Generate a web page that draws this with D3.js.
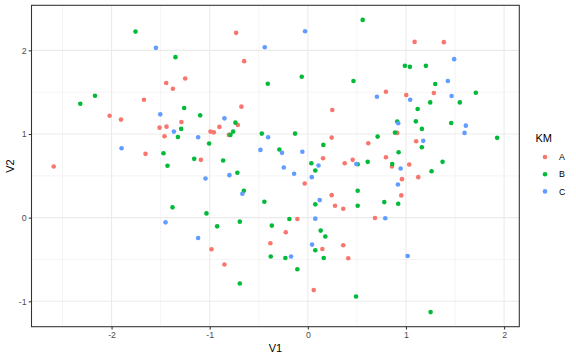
<!DOCTYPE html>
<html><head><meta charset="utf-8">
<script src="https://cdn.jsdelivr.net/npm/d3@7"></script>
<style>body{margin:0;background:#fff}svg{display:block}text{font-family:"Liberation Sans",Arial,sans-serif}</style>
</head><body><svg id="c" width="576" height="360"></svg>
<script>
const clusters = ["A","B","C"];
const colors = ["#F8766D","#00BA38","#619CFF"];
const xTicks = [-2,-1,0,1,2];
const yTicks = [-1,0,1,2];
const aV1 = [-1.250,-1.443,-1.375,-1.670,-2.020,-1.904,-1.288,-1.511,-1.440,-1.461,-1.654,-2.590,-0.731,-0.649,-0.677,0.249,-0.901,-0.713,-0.992,-0.958,-0.805,0.243,0.155,-1.090,0.376,0.457,-0.032,0.243,0.277,0.361,-0.107,-0.225,-0.382,0.361,-0.982,0.148,0.412,-0.850,0.060,1.088,1.386,0.796,1.003,1.284,0.911,0.616,1.104,0.796,1.033,0.857,0.959,1.125,0.952,0.684];
const aV2 = [1.664,1.609,1.541,1.410,1.219,1.172,1.144,1.076,1.088,0.973,0.763,0.611,2.209,1.871,1.327,1.287,1.085,1.108,1.029,1.020,0.989,0.957,0.710,0.691,0.651,0.691,0.409,0.269,0.143,0.107,-0.017,-0.175,-0.306,-0.330,-0.378,-0.374,-0.485,-0.560,-0.866,2.101,2.098,1.505,1.466,1.490,1.013,0.889,0.913,0.722,0.635,0.611,0.460,0.484,0.266,-0.005];
const bV1 = [-1.756,-1.349,-2.169,-2.319,-1.260,-1.291,-1.324,-1.471,-1.158,-1.430,-1.379,-0.062,-0.408,0.465,-1.097,-0.738,-0.761,-0.789,-0.469,-0.130,-1.006,0.158,-0.290,-0.863,0.036,0.076,-0.718,-0.652,-0.443,0.076,-1.033,-0.188,-0.693,-0.924,-0.367,0.131,0.178,0.076,-0.378,-0.229,0.162,-0.107,-0.693,0.491,1.251,0.559,0.989,1.040,1.203,1.298,1.712,1.247,1.549,1.119,0.911,1.101,1.461,1.162,0.888,1.929,0.711,1.162,0.925,0.610,0.860,1.373,0.508,1.261,0.508,0.779,0.921,0.508];
const bV2 = [2.224,1.919,1.458,1.362,1.311,1.061,0.965,0.770,0.703,0.620,0.123,1.684,1.601,1.634,1.223,1.136,1.029,0.989,1.005,1.005,0.886,0.870,0.814,0.683,0.651,0.564,0.536,0.322,0.191,0.159,0.051,-0.017,-0.048,-0.104,-0.095,-0.155,-0.226,-0.390,-0.465,-0.482,-0.482,-0.616,-0.787,-0.942,-1.129,2.364,1.815,1.803,1.815,1.597,1.493,1.378,1.378,1.299,1.148,1.151,1.132,1.061,1.017,0.954,0.969,0.841,0.782,0.667,0.641,0.667,0.639,0.555,0.322,0.186,0.167,0.143];
const cV1 = [-1.548,-1.504,-1.365,-1.898,-1.450,-0.028,-0.439,-0.850,-1.118,-0.405,-0.483,-0.263,-0.056,0.109,-0.245,-0.140,-1.043,-0.799,0.040,-0.667,0.121,0.076,-1.118,0.043,-0.171,1.491,1.427,0.704,1.043,1.465,0.921,1.610,1.597,1.176,0.494,0.946,0.918,0.789,1.017];
const cV2 = [2.030,1.235,1.029,0.830,-0.056,2.229,2.038,1.187,0.961,0.961,0.810,0.775,0.787,0.623,0.600,0.524,0.468,0.508,0.484,0.286,0.210,-0.012,-0.243,-0.322,-0.465,1.895,1.633,1.446,1.410,1.454,1.128,1.100,1.013,0.918,0.641,0.588,0.397,-0.008,-0.458];

const series = [[aV1,aV2],[bV1,bV2],[cV1,cV2]];
const pts = [];
series.forEach((s,k)=>s[0].forEach((v,i)=>pts.push({x:v,y:s[1][i],k:k})));

const svg = d3.select("#c");
const L=31.5, R=519.3, T=5.3, B=326.7;
function expand(ext){const d=(ext[1]-ext[0])*0.05;return [ext[0]-d, ext[1]+d];}
const x = d3.scaleLinear().domain(expand(d3.extent(pts,d=>d.x))).range([L,R]);
const y = d3.scaleLinear().domain(expand(d3.extent(pts,d=>d.y))).range([B,T]);

const g = svg.append("g");
g.append("rect").attr("x",L).attr("y",T).attr("width",R-L).attr("height",B-T).attr("fill","#fff");
// minor grid
const xMinor = xTicks.slice(0,-1).map(v=>v+0.5).concat([xTicks[0]-0.5]);
const yMinor = yTicks.slice(0,-1).map(v=>v+0.5).concat([yTicks[0]-0.5]);
xMinor.filter(v=>v>=x.domain()[0]&&v<=x.domain()[1]).forEach(v=>g.append("line").attr("x1",x(v)).attr("x2",x(v)).attr("y1",T).attr("y2",B).attr("stroke","#ebebeb").attr("stroke-width",0.55));
yMinor.filter(v=>v>=y.domain()[0]&&v<=y.domain()[1]).forEach(v=>g.append("line").attr("y1",y(v)).attr("y2",y(v)).attr("x1",L).attr("x2",R).attr("stroke","#ebebeb").attr("stroke-width",0.55));
xTicks.forEach(v=>g.append("line").attr("x1",x(v)).attr("x2",x(v)).attr("y1",T).attr("y2",B).attr("stroke","#ebebeb").attr("stroke-width",1.07));
yTicks.forEach(v=>g.append("line").attr("y1",y(v)).attr("y2",y(v)).attr("x1",L).attr("x2",R).attr("stroke","#ebebeb").attr("stroke-width",1.07));

g.selectAll("circle.p").data(pts).enter().append("circle")
 .attr("cx",d=>x(d.x)).attr("cy",d=>y(d.y)).attr("r",2.3).attr("fill",d=>colors[d.k]);

g.append("rect").attr("x",L).attr("y",T).attr("width",R-L).attr("height",B-T).attr("fill","none").attr("stroke","#333").attr("stroke-width",1.07);

// axes
const xa = svg.append("g").attr("transform",`translate(0,${B})`).call(d3.axisBottom(x).tickValues(xTicks).tickSize(2.75).tickPadding(2.2).tickFormat(d3.format("d")));
const ya = svg.append("g").attr("transform",`translate(${L},0)`).call(d3.axisLeft(y).tickValues(yTicks).tickSize(2.75).tickPadding(2.2).tickFormat(d3.format("d")));
[xa,ya].forEach(a=>{a.select(".domain").remove();a.selectAll("line").attr("stroke","#333").attr("stroke-width",1.07);
 a.selectAll("text").attr("fill","#4d4d4d").style("font-size","8.8px").style("font-family","'Liberation Sans',Arial,sans-serif");});
ya.selectAll("text").text(d=>d<0?"-"+Math.abs(d):d);
xa.selectAll("text").text(d=>d<0?"-"+Math.abs(d):d);

svg.append("text").attr("x",(L+R)/2).attr("y",352).attr("text-anchor","middle").style("font-size","11px").attr("fill","#000").text("V1");
svg.append("text").attr("transform",`translate(13.5,${(T+B)/2}) rotate(-90)`).attr("text-anchor","middle").style("font-size","11px").attr("fill","#000").text("V2");

// legend
const lg = svg.append("g");
lg.append("text").attr("x",535.5).attr("y",142).style("font-size","11px").text("KM");
clusters.forEach((c,i)=>{
  const cy = 157 + i*17.2;
  lg.append("circle").attr("cx",545).attr("cy",cy).attr("r",2.3).attr("fill",colors[i]);
  lg.append("text").attr("x",559).attr("y",cy+3.1).style("font-size","8.8px").attr("fill","#000").text(c);
});
</script></body></html>
